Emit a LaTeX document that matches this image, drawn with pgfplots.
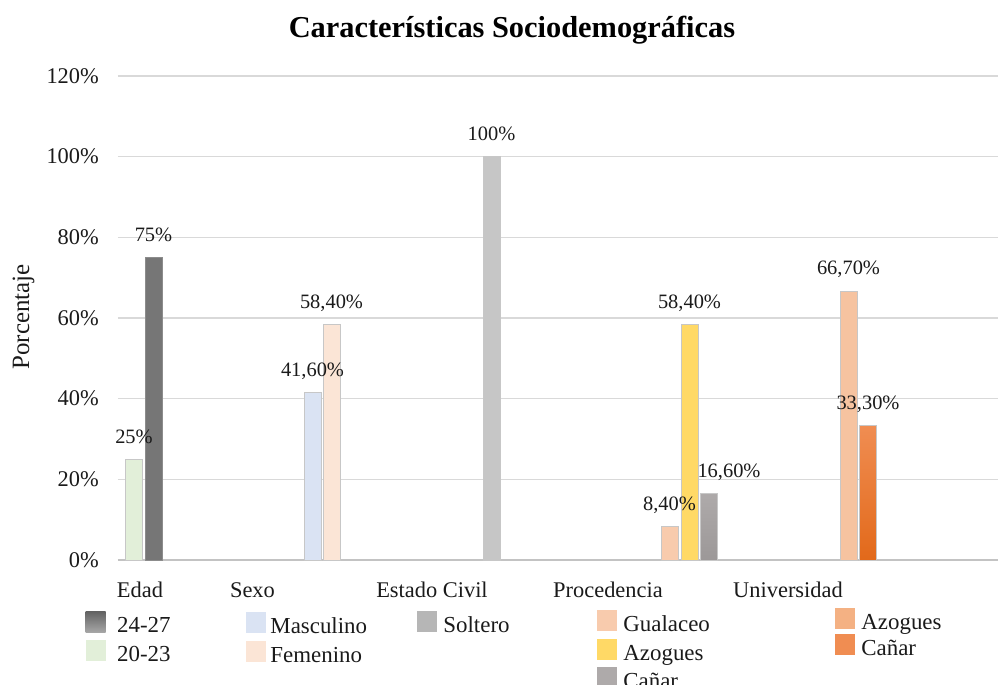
\documentclass[border=0pt]{standalone}
\usepackage{fontspec}
\setmainfont{Liberation Serif}
\usepackage{pgfplots}
\pgfplotsset{compat=1.18}
\definecolor{cA}{HTML}{E2EFD9}   % 20-23
\definecolor{cB}{HTML}{767676}   % 24-27
\definecolor{cMasc}{HTML}{DAE3F3}
\definecolor{cFem}{HTML}{FBE5D6}
\definecolor{cSolt}{HTML}{C6C6C6}
\definecolor{cGual}{HTML}{F8CBAD}
\definecolor{cAzo}{HTML}{FFD966}
\definecolor{cCanP}{HTML}{AEAAAA}
\definecolor{cCanPd}{HTML}{9C9898}
\definecolor{cAzoU}{HTML}{F6C3A0}
\definecolor{cAzoUl}{HTML}{F4B183}
\definecolor{cCanU}{HTML}{F08D52}
\definecolor{cCanUd}{HTML}{E2691A}
\definecolor{gridc}{HTML}{D9D9D9}
\definecolor{txt}{HTML}{1A1A1A}
\pgfplotsset{
  bar/.style={ybar, bar width=17, bar shift=0pt, draw=black!22, line width=0.8bp},
  lbltwo/.style={nodes near coords={\pgfmathprintnumber[assume math mode=true,use comma,fixed,fixed zerofill,precision=2]{\pgfplotspointmeta}\%}},
  lblzero/.style={nodes near coords={\pgfmathprintnumber[assume math mode=true,fixed,precision=0]{\pgfplotspointmeta}\%}},
  legsq/.style={legend image code/.code={%
      \path[draw=none,##1,overlay] (0bp,-6.5bp) rectangle (20bp,14.5bp);
      \path (0bp,0bp) (20bp,0bp);}},
  leghid/.style={hide axis, scale only axis, width=10bp, height=10bp,
    xmin=0, xmax=1, ymin=0, ymax=1, anchor=north west, legsq,
    legend cell align=left,
    legend style={at={(0,1)}, anchor=north west, draw=none, fill=none,
      inner sep=0pt, outer sep=0pt, text=txt,
      font=\fontsize{23}{27}\selectfont,
      nodes={inner sep=0pt, text height=17bp, text depth=3bp}}},
}
\begin{document}
\begin{tikzpicture}[x=1bp,y=1bp]
\useasboundingbox (-118bp,-125bp) rectangle (880bp,560bp);
\begin{axis}[
  at={(0bp,0bp)}, anchor=south west, scale only axis,
  width=880bp, height=484bp,
  xmin=118, xmax=998, ymin=0, ymax=120,
  clip=false,
  axis x line*=bottom, axis y line*=left,
  x axis line style={draw=gridc!90!black, line width=2bp},
  y axis line style={draw=none},
  major tick length=0pt,
  ymajorgrids, grid style={draw=gridc, line width=1.3bp},
  ytick={0,20,40,60,80,100,120},
  yticklabel={\pgfmathprintnumber{\tick}\%},
  yticklabel style={anchor=east, inner sep=0pt, xshift=-19bp, text=txt,
    font=\fontsize{22.5}{26}\selectfont, /pgf/number format/assume math mode=true},
  xtick={140,252.5,432,608,788},
  xticklabels={Edad, Sexo, Estado Civil, Procedencia, Universidad},
  xticklabel style={anchor=base, inner sep=0pt, yshift=-37bp, text=txt,
    font=\fontsize{22.5}{26}\selectfont},
  title={Características Sociodemográficas},
  title style={at={(axis description cs:0.4477,1.0682)}, anchor=base,
    font=\bfseries\fontsize{30.5}{34}\selectfont, text=black},
  ylabel={Porcentaje},
  ylabel style={at={(axis description cs:-0.1011,0.502)}, anchor=base,
    font=\fontsize{25}{29}\selectfont, text=txt},
  point meta=y,
  every node near coord/.append style={anchor=base, inner sep=0pt, yshift=16bp,
    text=txt, font=\fontsize{20.5}{24}\selectfont},
]
% Edad
\addplot[bar, fill=cA, lblzero] coordinates {(134,25)};
\addplot[bar, fill=cB, draw=black!45, lblzero] coordinates {(153.5,75)};
% Sexo
\addplot[bar, fill=cMasc, lbltwo] coordinates {(312.5,41.6)};
\addplot[bar, fill=cFem, lbltwo] coordinates {(331.5,58.4)};
% Estado Civil
\addplot[bar, fill=cSolt, lblzero] coordinates {(491.5,100)};
% Procedencia
\addplot[bar, fill=cGual, lbltwo] coordinates {(669.5,8.4)};
\addplot[bar, fill=cAzo, lbltwo] coordinates {(689.5,58.4)};
\addplot[bar, top color=cCanP, bottom color=cCanPd, lbltwo,
  every node near coord/.append style={xshift=20bp}] coordinates {(709,16.6)};
% Universidad
\addplot[bar, fill=cAzoU, lbltwo] coordinates {(848.5,66.7)};
\addplot[bar, top color=cCanU, bottom color=cCanUd, lbltwo] coordinates {(868,33.3)};
\end{axis}
% legends
\begin{axis}[leghid, at={(-33bp,-55.5bp)}, legend style={column sep=11bp, row sep=9bp}]
\addlegendimage{top color=black!62, bottom color=black!35, draw=black!80, line width=1.2bp}
\addlegendentry{24-27}
\addlegendimage{fill=cA}
\addlegendentry{20-23}
\end{axis}
\begin{axis}[leghid, at={(128bp,-56.5bp)}, legend style={column sep=4bp, row sep=9bp}]
\addlegendimage{fill=cMasc}
\addlegendentry{Masculino}
\addlegendimage{fill=cFem}
\addlegendentry{Femenino}
\end{axis}
\begin{axis}[leghid, at={(299bp,-55.5bp)}, legend style={column sep=6bp, row sep=9bp}]
\addlegendimage{fill=cSolt!92!black}
\addlegendentry{Soltero}
\end{axis}
\begin{axis}[leghid, at={(479bp,-54.5bp)}, legend style={column sep=6bp, row sep=8.5bp}]
\addlegendimage{fill=cGual}
\addlegendentry{Gualaceo}
\addlegendimage{fill=cAzo}
\addlegendentry{Azogues}
\addlegendimage{fill=cCanP}
\addlegendentry{Cañar}
\end{axis}
\begin{axis}[leghid, at={(717bp,-52.5bp)}, legend style={column sep=6bp, row sep=6bp}]
\addlegendimage{fill=cAzoUl}
\addlegendentry{Azogues}
\addlegendimage{fill=cCanU}
\addlegendentry{Cañar}
\end{axis}
\end{tikzpicture}
\end{document}
